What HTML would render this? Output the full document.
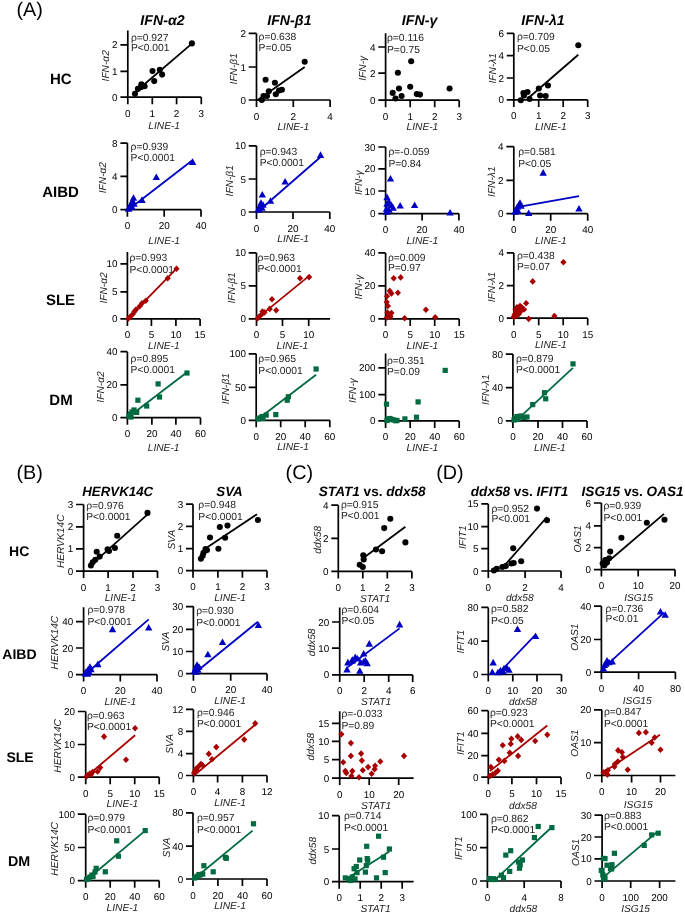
<!DOCTYPE html>
<html><head><meta charset="utf-8"><style>
html,body{margin:0;padding:0;background:#fff;}
svg{display:block;will-change:transform;text-rendering:geometricPrecision;font-family:"Liberation Sans",sans-serif;}
</style></head><body>
<svg width="685" height="914" viewBox="0 0 685 914">
<rect width="685" height="914" fill="#fff"/>
<path d="M127.80 30.60V97.20M120.40 97.20H201.30M120.40 71.40H127.80M120.40 44.80H127.80M127.80 97.20V104.20M152.30 97.20V104.20M176.60 97.20V104.20M201.30 97.20V104.20" stroke="#000" stroke-width="1.7" fill="none"/>
<text x="117.60" y="100.74" font-size="9.9" text-anchor="end">0</text>
<text x="117.60" y="74.94" font-size="9.9" text-anchor="end">1</text>
<text x="117.60" y="48.34" font-size="9.9" text-anchor="end">2</text>
<text x="127.80" y="116.74" font-size="9.9" text-anchor="middle">0</text>
<text x="152.30" y="116.74" font-size="9.9" text-anchor="middle">1</text>
<text x="176.60" y="116.74" font-size="9.9" text-anchor="middle">2</text>
<text x="201.30" y="116.74" font-size="9.9" text-anchor="middle">3</text>
<text x="130.90" y="40.59" font-size="10.3" fill="#222">ρ=0.927</text>
<text x="130.90" y="51.49" font-size="10.3" fill="#222">P&lt;0.001</text>
<text x="164.20" y="128.65" font-size="10.2" text-anchor="middle" font-style="italic" fill="#222">LINE-1</text>
<text transform="translate(105.60,65.80) rotate(-90)" x="0" y="3.65" font-size="10.2" text-anchor="middle" font-style="italic" fill="#222">IFN-α2</text>
<line x1="132.7" y1="94.2" x2="192.2" y2="43.4" stroke="#000000" stroke-width="1.8"/>
<circle cx="191.9" cy="43.4" r="3.05" fill="#000000"/>
<circle cx="159.8" cy="69.7" r="3.05" fill="#000000"/>
<circle cx="152.5" cy="71.1" r="3.05" fill="#000000"/>
<circle cx="162.1" cy="74.6" r="3.05" fill="#000000"/>
<circle cx="154.2" cy="81.1" r="3.05" fill="#000000"/>
<circle cx="141.4" cy="84.2" r="3.05" fill="#000000"/>
<circle cx="144.6" cy="86.3" r="3.05" fill="#000000"/>
<circle cx="140.9" cy="87.2" r="3.05" fill="#000000"/>
<circle cx="137.9" cy="88.9" r="3.05" fill="#000000"/>
<circle cx="135.0" cy="93.7" r="3.05" fill="#000000"/>
<path d="M256.50 33.40V100.00M248.70 100.00H330.10M248.70 67.00H256.50M248.70 33.40H256.50M256.50 100.00V107.00M293.30 100.00V107.00M330.10 100.00V107.00" stroke="#000" stroke-width="1.7" fill="none"/>
<text x="245.90" y="103.54" font-size="9.9" text-anchor="end">0</text>
<text x="245.90" y="70.54" font-size="9.9" text-anchor="end">1</text>
<text x="245.90" y="36.94" font-size="9.9" text-anchor="end">2</text>
<text x="256.50" y="119.54" font-size="9.9" text-anchor="middle">0</text>
<text x="293.30" y="119.54" font-size="9.9" text-anchor="middle">2</text>
<text x="330.10" y="119.54" font-size="9.9" text-anchor="middle">4</text>
<text x="258.60" y="40.09" font-size="10.3" fill="#222">ρ=0.638</text>
<text x="258.60" y="51.49" font-size="10.3" fill="#222">P=0.05</text>
<text x="293.30" y="130.15" font-size="10.2" text-anchor="middle" font-style="italic" fill="#222">LINE-1</text>
<text transform="translate(233.80,68.80) rotate(-90)" x="0" y="3.65" font-size="10.2" text-anchor="middle" font-style="italic" fill="#222">IFN-β1</text>
<line x1="257.4" y1="100.3" x2="304.7" y2="67.0" stroke="#000000" stroke-width="1.8"/>
<circle cx="304.7" cy="61.8" r="3.05" fill="#000000"/>
<circle cx="265.6" cy="79.7" r="3.05" fill="#000000"/>
<circle cx="274.9" cy="82.8" r="3.05" fill="#000000"/>
<circle cx="268.8" cy="91.2" r="3.05" fill="#000000"/>
<circle cx="281.9" cy="89.8" r="3.05" fill="#000000"/>
<circle cx="279.0" cy="90.5" r="3.05" fill="#000000"/>
<circle cx="275.8" cy="94.2" r="3.05" fill="#000000"/>
<circle cx="267.0" cy="96.0" r="3.05" fill="#000000"/>
<circle cx="263.5" cy="96.0" r="3.05" fill="#000000"/>
<circle cx="261.8" cy="100.0" r="3.05" fill="#000000"/>
<path d="M385.60 33.30V100.20M378.30 100.20H459.20M378.30 73.20H385.60M378.30 47.00H385.60M385.60 100.20V107.20M410.20 100.20V107.20M434.70 100.20V107.20M459.20 100.20V107.20" stroke="#000" stroke-width="1.7" fill="none"/>
<text x="375.50" y="103.74" font-size="9.9" text-anchor="end">0</text>
<text x="375.50" y="76.74" font-size="9.9" text-anchor="end">2</text>
<text x="375.50" y="50.54" font-size="9.9" text-anchor="end">4</text>
<text x="385.60" y="119.74" font-size="9.9" text-anchor="middle">0</text>
<text x="410.20" y="119.74" font-size="9.9" text-anchor="middle">1</text>
<text x="434.70" y="119.74" font-size="9.9" text-anchor="middle">2</text>
<text x="459.20" y="119.74" font-size="9.9" text-anchor="middle">3</text>
<text x="387.00" y="40.79" font-size="10.3" fill="#222">ρ=0.116</text>
<text x="387.00" y="52.79" font-size="10.3" fill="#222">P=0.75</text>
<text x="422.40" y="130.35" font-size="10.2" text-anchor="middle" font-style="italic" fill="#222">LINE-1</text>
<text transform="translate(362.50,68.30) rotate(-90)" x="0" y="3.65" font-size="10.2" text-anchor="middle" font-style="italic" fill="#222">IFN-γ</text>
<circle cx="411.2" cy="61.3" r="3.05" fill="#000000"/>
<circle cx="397.9" cy="72.7" r="3.05" fill="#000000"/>
<circle cx="410.2" cy="86.7" r="3.05" fill="#000000"/>
<circle cx="399.0" cy="88.5" r="3.05" fill="#000000"/>
<circle cx="449.6" cy="88.5" r="3.05" fill="#000000"/>
<circle cx="392.7" cy="92.9" r="3.05" fill="#000000"/>
<circle cx="416.8" cy="94.1" r="3.05" fill="#000000"/>
<circle cx="420.0" cy="94.6" r="3.05" fill="#000000"/>
<circle cx="401.6" cy="96.0" r="3.05" fill="#000000"/>
<circle cx="395.5" cy="98.5" r="3.05" fill="#000000"/>
<path d="M513.80 33.30V99.90M506.80 99.90H587.70M506.80 78.00H513.80M506.80 55.70H513.80M506.80 33.30H513.80M513.80 99.90V106.90M538.70 99.90V106.90M563.20 99.90V106.90M587.70 99.90V106.90" stroke="#000" stroke-width="1.7" fill="none"/>
<text x="504.00" y="103.44" font-size="9.9" text-anchor="end">0</text>
<text x="504.00" y="81.54" font-size="9.9" text-anchor="end">2</text>
<text x="504.00" y="59.24" font-size="9.9" text-anchor="end">4</text>
<text x="504.00" y="36.84" font-size="9.9" text-anchor="end">6</text>
<text x="513.80" y="119.44" font-size="9.9" text-anchor="middle">0</text>
<text x="538.70" y="119.44" font-size="9.9" text-anchor="middle">1</text>
<text x="563.20" y="119.44" font-size="9.9" text-anchor="middle">2</text>
<text x="587.70" y="119.44" font-size="9.9" text-anchor="middle">3</text>
<text x="517.00" y="40.49" font-size="10.3" fill="#222">ρ=0.709</text>
<text x="517.00" y="51.89" font-size="10.3" fill="#222">P&lt;0.05</text>
<text x="550.75" y="130.05" font-size="10.2" text-anchor="middle" font-style="italic" fill="#222">LINE-1</text>
<text transform="translate(491.90,68.30) rotate(-90)" x="0" y="3.65" font-size="10.2" text-anchor="middle" font-style="italic" fill="#222">IFN-λ1</text>
<line x1="527.8" y1="98.5" x2="578.3" y2="54.7" stroke="#000000" stroke-width="1.8"/>
<circle cx="578.3" cy="45.2" r="3.05" fill="#000000"/>
<circle cx="548.0" cy="85.5" r="3.05" fill="#000000"/>
<circle cx="538.8" cy="88.5" r="3.05" fill="#000000"/>
<circle cx="540.1" cy="95.5" r="3.05" fill="#000000"/>
<circle cx="545.7" cy="96.0" r="3.05" fill="#000000"/>
<circle cx="527.5" cy="92.0" r="3.05" fill="#000000"/>
<circle cx="524.0" cy="95.5" r="3.05" fill="#000000"/>
<circle cx="529.6" cy="99.0" r="3.05" fill="#000000"/>
<circle cx="520.8" cy="100.2" r="3.05" fill="#000000"/>
<circle cx="523.4" cy="93.0" r="3.05" fill="#000000"/>
<path d="M127.40 143.10V209.70M120.40 209.70H201.00M120.40 176.40H127.40M120.40 143.10H127.40M127.40 209.70V216.70M164.20 209.70V216.70M201.00 209.70V216.70" stroke="#000" stroke-width="1.7" fill="none"/>
<text x="117.60" y="213.24" font-size="9.9" text-anchor="end">0</text>
<text x="117.60" y="179.94" font-size="9.9" text-anchor="end">4</text>
<text x="117.60" y="146.64" font-size="9.9" text-anchor="end">8</text>
<text x="127.40" y="229.24" font-size="9.9" text-anchor="middle">0</text>
<text x="164.20" y="229.24" font-size="9.9" text-anchor="middle">20</text>
<text x="201.00" y="229.24" font-size="9.9" text-anchor="middle">40</text>
<text x="130.60" y="149.99" font-size="10.3" fill="#222">ρ=0.939</text>
<text x="130.60" y="161.19" font-size="10.3" fill="#222">P&lt;0.0001</text>
<text x="164.20" y="244.15" font-size="10.2" text-anchor="middle" font-style="italic" fill="#222">LINE-1</text>
<text transform="translate(101.90,177.60) rotate(-90)" x="0" y="3.65" font-size="10.2" text-anchor="middle" font-style="italic" fill="#222">IFN-α2</text>
<line x1="128.3" y1="209.7" x2="193.1" y2="159.8" stroke="#0000c4" stroke-width="1.8"/>
<path d="M192.6 158.3L196.3 164.9L188.9 164.9Z" fill="#0000c4"/>
<path d="M156.3 173.5L160.0 180.1L152.6 180.1Z" fill="#0000c4"/>
<path d="M142.0 196.3L145.7 202.9L138.3 202.9Z" fill="#0000c4"/>
<path d="M133.5 194.2L137.2 200.8L129.8 200.8Z" fill="#0000c4"/>
<path d="M132.5 197.2L136.2 203.8L128.8 203.8Z" fill="#0000c4"/>
<path d="M131.0 200.2L134.7 206.8L127.3 206.8Z" fill="#0000c4"/>
<path d="M130.0 202.2L133.7 208.8L126.3 208.8Z" fill="#0000c4"/>
<path d="M129.0 204.2L132.7 210.8L125.3 210.8Z" fill="#0000c4"/>
<path d="M128.5 205.2L132.2 211.8L124.8 211.8Z" fill="#0000c4"/>
<path d="M134.0 200.2L137.7 206.8L130.3 206.8Z" fill="#0000c4"/>
<path d="M132.0 203.2L135.7 209.8L128.3 209.8Z" fill="#0000c4"/>
<path d="M256.50 145.80V212.00M248.70 212.00H329.80M248.70 179.00H256.50M248.70 145.80H256.50M256.50 212.00V219.00M293.00 212.00V219.00M329.80 212.00V219.00" stroke="#000" stroke-width="1.7" fill="none"/>
<text x="245.90" y="215.54" font-size="9.9" text-anchor="end">0</text>
<text x="245.90" y="182.54" font-size="9.9" text-anchor="end">5</text>
<text x="245.90" y="149.34" font-size="9.9" text-anchor="end">10</text>
<text x="256.50" y="231.54" font-size="9.9" text-anchor="middle">0</text>
<text x="293.00" y="231.54" font-size="9.9" text-anchor="middle">20</text>
<text x="329.80" y="231.54" font-size="9.9" text-anchor="middle">40</text>
<text x="259.70" y="154.69" font-size="10.3" fill="#222">ρ=0.943</text>
<text x="259.70" y="165.79" font-size="10.3" fill="#222">P&lt;0.0001</text>
<text x="293.15" y="242.15" font-size="10.2" text-anchor="middle" font-style="italic" fill="#222">LINE-1</text>
<text transform="translate(229.40,180.80) rotate(-90)" x="0" y="3.65" font-size="10.2" text-anchor="middle" font-style="italic" fill="#222">IFN-β1</text>
<line x1="257.4" y1="212" x2="321.4" y2="156.3" stroke="#0000c4" stroke-width="1.8"/>
<path d="M320.5 151.3L324.2 157.9L316.8 157.9Z" fill="#0000c4"/>
<path d="M285.1 177.9L288.8 184.5L281.4 184.5Z" fill="#0000c4"/>
<path d="M270.5 197.2L274.2 203.8L266.8 203.8Z" fill="#0000c4"/>
<path d="M262.3 191.0L266.0 197.6L258.6 197.6Z" fill="#0000c4"/>
<path d="M261.0 199.2L264.7 205.8L257.3 205.8Z" fill="#0000c4"/>
<path d="M260.0 202.2L263.7 208.8L256.3 208.8Z" fill="#0000c4"/>
<path d="M259.0 205.2L262.7 211.8L255.3 211.8Z" fill="#0000c4"/>
<path d="M258.0 206.2L261.7 212.8L254.3 212.8Z" fill="#0000c4"/>
<path d="M262.0 204.2L265.7 210.8L258.3 210.8Z" fill="#0000c4"/>
<path d="M263.0 201.2L266.7 207.8L259.3 207.8Z" fill="#0000c4"/>
<path d="M385.60 147.00V213.60M378.30 213.60H458.90M378.30 191.00H385.60M378.30 168.90H385.60M378.30 147.00H385.60M385.60 213.60V220.60M422.10 213.60V220.60M458.90 213.60V220.60" stroke="#000" stroke-width="1.7" fill="none"/>
<text x="375.50" y="217.14" font-size="9.9" text-anchor="end">0</text>
<text x="375.50" y="194.54" font-size="9.9" text-anchor="end">10</text>
<text x="375.50" y="172.44" font-size="9.9" text-anchor="end">20</text>
<text x="375.50" y="150.54" font-size="9.9" text-anchor="end">30</text>
<text x="385.60" y="233.14" font-size="9.9" text-anchor="middle">0</text>
<text x="422.10" y="233.14" font-size="9.9" text-anchor="middle">20</text>
<text x="458.90" y="233.14" font-size="9.9" text-anchor="middle">40</text>
<text x="388.40" y="154.69" font-size="10.3" fill="#222">ρ=-0.059</text>
<text x="388.40" y="166.69" font-size="10.3" fill="#222">P=0.84</text>
<text x="422.25" y="243.75" font-size="10.2" text-anchor="middle" font-style="italic" fill="#222">LINE-1</text>
<text transform="translate(358.10,182.60) rotate(-90)" x="0" y="3.65" font-size="10.2" text-anchor="middle" font-style="italic" fill="#222">IFN-γ</text>
<path d="M390.5 174.9L394.2 181.5L386.8 181.5Z" fill="#0000c4"/>
<path d="M400.2 201.9L403.9 208.5L396.5 208.5Z" fill="#0000c4"/>
<path d="M414.6 201.5L418.3 208.1L410.9 208.1Z" fill="#0000c4"/>
<path d="M450.1 208.9L453.8 215.5L446.4 215.5Z" fill="#0000c4"/>
<path d="M387.0 193.6L390.7 200.2L383.3 200.2Z" fill="#0000c4"/>
<path d="M388.8 198.0L392.5 204.6L385.1 204.6Z" fill="#0000c4"/>
<path d="M391.4 201.5L395.1 208.1L387.7 208.1Z" fill="#0000c4"/>
<path d="M393.2 204.2L396.9 210.8L389.5 210.8Z" fill="#0000c4"/>
<path d="M387.0 200.2L390.7 206.8L383.3 206.8Z" fill="#0000c4"/>
<path d="M386.5 205.2L390.2 211.8L382.8 211.8Z" fill="#0000c4"/>
<path d="M389.0 206.2L392.7 212.8L385.3 212.8Z" fill="#0000c4"/>
<path d="M386.5 208.2L390.2 214.8L382.8 214.8Z" fill="#0000c4"/>
<path d="M513.80 146.60V213.70M506.40 213.70H587.70M506.40 180.30H513.80M506.40 146.60H513.80M513.80 213.70V220.70M550.70 213.70V220.70M587.70 213.70V220.70" stroke="#000" stroke-width="1.7" fill="none"/>
<text x="503.60" y="217.24" font-size="9.9" text-anchor="end">0</text>
<text x="503.60" y="183.84" font-size="9.9" text-anchor="end">2</text>
<text x="503.60" y="150.14" font-size="9.9" text-anchor="end">4</text>
<text x="513.80" y="233.24" font-size="9.9" text-anchor="middle">0</text>
<text x="550.70" y="233.24" font-size="9.9" text-anchor="middle">20</text>
<text x="587.70" y="233.24" font-size="9.9" text-anchor="middle">40</text>
<text x="518.20" y="155.19" font-size="10.3" fill="#222">ρ=0.581</text>
<text x="518.20" y="166.99" font-size="10.3" fill="#222">P&lt;0.05</text>
<text x="550.75" y="243.85" font-size="10.2" text-anchor="middle" font-style="italic" fill="#222">LINE-1</text>
<text transform="translate(491.00,181.70) rotate(-90)" x="0" y="3.65" font-size="10.2" text-anchor="middle" font-style="italic" fill="#222">IFN-λ1</text>
<line x1="517.3" y1="207.1" x2="579" y2="196.2" stroke="#0000c4" stroke-width="1.8"/>
<path d="M543.2 169.1L546.9 175.7L539.5 175.7Z" fill="#0000c4"/>
<path d="M579.0 205.0L582.7 211.6L575.3 211.6Z" fill="#0000c4"/>
<path d="M528.7 209.4L532.4 216.0L525.0 216.0Z" fill="#0000c4"/>
<path d="M516.0 206.2L519.7 212.8L512.3 212.8Z" fill="#0000c4"/>
<path d="M517.5 203.2L521.2 209.8L513.8 209.8Z" fill="#0000c4"/>
<path d="M519.0 201.2L522.7 207.8L515.3 207.8Z" fill="#0000c4"/>
<path d="M520.0 199.2L523.7 205.8L516.3 205.8Z" fill="#0000c4"/>
<path d="M518.0 207.2L521.7 213.8L514.3 213.8Z" fill="#0000c4"/>
<path d="M515.0 208.2L518.7 214.8L511.3 214.8Z" fill="#0000c4"/>
<path d="M521.0 202.2L524.7 208.8L517.3 208.8Z" fill="#0000c4"/>
<path d="M127.40 252.00V318.90M120.40 318.90H200.10M120.40 291.80H127.40M120.40 263.90H127.40M127.40 318.90V325.90M151.40 318.90V325.90M175.90 318.90V325.90M200.10 318.90V325.90" stroke="#000" stroke-width="1.7" fill="none"/>
<text x="117.60" y="322.44" font-size="9.9" text-anchor="end">0</text>
<text x="117.60" y="295.34" font-size="9.9" text-anchor="end">5</text>
<text x="117.60" y="267.44" font-size="9.9" text-anchor="end">10</text>
<text x="127.40" y="338.44" font-size="9.9" text-anchor="middle">0</text>
<text x="151.40" y="338.44" font-size="9.9" text-anchor="middle">5</text>
<text x="175.90" y="338.44" font-size="9.9" text-anchor="middle">10</text>
<text x="200.10" y="338.44" font-size="9.9" text-anchor="middle">15</text>
<text x="129.50" y="261.29" font-size="10.3" fill="#222">ρ=0.993</text>
<text x="129.50" y="272.89" font-size="10.3" fill="#222">P&lt;0.0001</text>
<text x="163.75" y="349.05" font-size="10.2" text-anchor="middle" font-style="italic" fill="#222">LINE-1</text>
<text transform="translate(102.90,287.90) rotate(-90)" x="0" y="3.65" font-size="10.2" text-anchor="middle" font-style="italic" fill="#222">IFN-α2</text>
<line x1="127.4" y1="318.9" x2="176.5" y2="268.7" stroke="#a80000" stroke-width="1.8"/>
<path d="M176.5 265.4L179.6 268.7L176.5 272.0L173.4 268.7Z" fill="#a80000"/>
<path d="M167.7 275.0L170.8 278.3L167.7 281.6L164.6 278.3Z" fill="#a80000"/>
<path d="M145.8 297.4L148.9 300.7L145.8 304.0L142.7 300.7Z" fill="#a80000"/>
<path d="M142.0 299.9L145.1 303.2L142.0 306.5L138.9 303.2Z" fill="#a80000"/>
<path d="M139.7 303.0L142.8 306.3L139.7 309.6L136.6 306.3Z" fill="#a80000"/>
<path d="M134.4 308.3L137.5 311.6L134.4 314.9L131.3 311.6Z" fill="#a80000"/>
<path d="M132.7 310.9L135.8 314.2L132.7 317.5L129.6 314.2Z" fill="#a80000"/>
<path d="M130.2 313.5L133.3 316.8L130.2 320.1L127.1 316.8Z" fill="#a80000"/>
<path d="M128.4 315.2L131.5 318.5L128.4 321.8L125.3 318.5Z" fill="#a80000"/>
<path d="M136.0 306.2L139.1 309.5L136.0 312.8L132.9 309.5Z" fill="#a80000"/>
<path d="M256.50 252.90V318.90M248.70 318.90H330.10M248.70 285.80H256.50M248.70 252.90H256.50M256.50 318.90V325.90M282.50 318.90V325.90M308.70 318.90V325.90" stroke="#000" stroke-width="1.7" fill="none"/>
<text x="245.90" y="322.44" font-size="9.9" text-anchor="end">0</text>
<text x="245.90" y="289.34" font-size="9.9" text-anchor="end">5</text>
<text x="245.90" y="256.44" font-size="9.9" text-anchor="end">10</text>
<text x="256.50" y="338.44" font-size="9.9" text-anchor="middle">0</text>
<text x="282.50" y="338.44" font-size="9.9" text-anchor="middle">5</text>
<text x="308.70" y="338.44" font-size="9.9" text-anchor="middle">10</text>
<text x="257.40" y="260.59" font-size="10.3" fill="#222">ρ=0.963</text>
<text x="257.40" y="271.99" font-size="10.3" fill="#222">P&lt;0.0001</text>
<text x="292.40" y="348.85" font-size="10.2" text-anchor="middle" font-style="italic" fill="#222">LINE-1</text>
<text transform="translate(231.10,287.90) rotate(-90)" x="0" y="3.65" font-size="10.2" text-anchor="middle" font-style="italic" fill="#222">IFN-β1</text>
<line x1="256.5" y1="318.9" x2="307.3" y2="277.4" stroke="#a80000" stroke-width="1.8"/>
<path d="M309.1 273.8L312.2 277.1L309.1 280.4L306.0 277.1Z" fill="#a80000"/>
<path d="M300.0 275.0L303.1 278.3L300.0 281.6L296.9 278.3Z" fill="#a80000"/>
<path d="M272.0 296.0L275.1 299.3L272.0 302.6L268.9 299.3Z" fill="#a80000"/>
<path d="M276.2 306.9L279.3 310.2L276.2 313.5L273.1 310.2Z" fill="#a80000"/>
<path d="M269.7 305.6L272.8 308.9L269.7 312.2L266.6 308.9Z" fill="#a80000"/>
<path d="M264.4 309.1L267.5 312.4L264.4 315.7L261.3 312.4Z" fill="#a80000"/>
<path d="M261.8 310.9L264.9 314.2L261.8 317.5L258.7 314.2Z" fill="#a80000"/>
<path d="M259.2 313.2L262.3 316.5L259.2 319.8L256.1 316.5Z" fill="#a80000"/>
<path d="M257.4 315.2L260.5 318.5L257.4 321.8L254.3 318.5Z" fill="#a80000"/>
<path d="M262.5 308.2L265.6 311.5L262.5 314.8L259.4 311.5Z" fill="#a80000"/>
<path d="M385.60 252.90V318.90M378.30 318.90H459.20M378.30 285.80H385.60M378.30 252.90H385.60M385.60 318.90V325.90M410.20 318.90V325.90M434.70 318.90V325.90M459.20 318.90V325.90" stroke="#000" stroke-width="1.7" fill="none"/>
<text x="375.50" y="322.44" font-size="9.9" text-anchor="end">0</text>
<text x="375.50" y="289.34" font-size="9.9" text-anchor="end">20</text>
<text x="375.50" y="256.44" font-size="9.9" text-anchor="end">40</text>
<text x="385.60" y="338.44" font-size="9.9" text-anchor="middle">0</text>
<text x="410.20" y="338.44" font-size="9.9" text-anchor="middle">5</text>
<text x="434.70" y="338.44" font-size="9.9" text-anchor="middle">10</text>
<text x="459.20" y="338.44" font-size="9.9" text-anchor="middle">15</text>
<text x="387.90" y="260.59" font-size="10.3" fill="#222">ρ=0.009</text>
<text x="387.90" y="271.49" font-size="10.3" fill="#222">P=0.97</text>
<text x="422.40" y="349.05" font-size="10.2" text-anchor="middle" font-style="italic" fill="#222">LINE-1</text>
<text transform="translate(358.10,287.00) rotate(-90)" x="0" y="3.65" font-size="10.2" text-anchor="middle" font-style="italic" fill="#222">IFN-γ</text>
<path d="M393.7 275.0L396.8 278.3L393.7 281.6L390.6 278.3Z" fill="#a80000"/>
<path d="M400.7 274.1L403.8 277.4L400.7 280.7L397.6 277.4Z" fill="#a80000"/>
<path d="M397.9 289.5L401.0 292.8L397.9 296.1L394.8 292.8Z" fill="#a80000"/>
<path d="M389.7 287.6L392.8 290.9L389.7 294.2L386.6 290.9Z" fill="#a80000"/>
<path d="M391.4 290.1L394.5 293.4L391.4 296.7L388.3 293.4Z" fill="#a80000"/>
<path d="M387.0 292.9L390.1 296.2L387.0 299.5L383.9 296.2Z" fill="#a80000"/>
<path d="M386.7 298.7L389.8 302.0L386.7 305.3L383.6 302.0Z" fill="#a80000"/>
<path d="M387.9 302.7L391.0 306.0L387.9 309.3L384.8 306.0Z" fill="#a80000"/>
<path d="M425.9 306.5L429.0 309.8L425.9 313.1L422.8 309.8Z" fill="#a80000"/>
<path d="M435.2 313.9L438.3 317.2L435.2 320.5L432.1 317.2Z" fill="#a80000"/>
<path d="M404.6 314.9L407.7 318.2L404.6 321.5L401.5 318.2Z" fill="#a80000"/>
<path d="M387.5 309.2L390.6 312.5L387.5 315.8L384.4 312.5Z" fill="#a80000"/>
<path d="M389.0 311.7L392.1 315.0L389.0 318.3L385.9 315.0Z" fill="#a80000"/>
<path d="M390.5 313.2L393.6 316.5L390.5 319.8L387.4 316.5Z" fill="#a80000"/>
<path d="M387.0 314.2L390.1 317.5L387.0 320.8L383.9 317.5Z" fill="#a80000"/>
<path d="M391.5 309.7L394.6 313.0L391.5 316.3L388.4 313.0Z" fill="#a80000"/>
<path d="M513.80 252.90V318.20M506.80 318.20H587.70M506.80 285.60H513.80M506.80 252.90H513.80M513.80 318.20V325.20M538.70 318.20V325.20M563.20 318.20V325.20M587.70 318.20V325.20" stroke="#000" stroke-width="1.7" fill="none"/>
<text x="504.00" y="321.74" font-size="9.9" text-anchor="end">0</text>
<text x="504.00" y="289.14" font-size="9.9" text-anchor="end">2</text>
<text x="504.00" y="256.44" font-size="9.9" text-anchor="end">4</text>
<text x="513.80" y="337.74" font-size="9.9" text-anchor="middle">0</text>
<text x="538.70" y="337.74" font-size="9.9" text-anchor="middle">5</text>
<text x="563.20" y="337.74" font-size="9.9" text-anchor="middle">10</text>
<text x="587.70" y="337.74" font-size="9.9" text-anchor="middle">15</text>
<text x="517.00" y="259.19" font-size="10.3" fill="#222">ρ=0.438</text>
<text x="517.00" y="270.09" font-size="10.3" fill="#222">P=0.07</text>
<text x="550.75" y="348.35" font-size="10.2" text-anchor="middle" font-style="italic" fill="#222">LINE-1</text>
<text transform="translate(491.00,287.00) rotate(-90)" x="0" y="3.65" font-size="10.2" text-anchor="middle" font-style="italic" fill="#222">IFN-λ1</text>
<path d="M563.4 258.9L566.5 262.2L563.4 265.5L560.3 262.2Z" fill="#a80000"/>
<path d="M532.7 278.1L535.8 281.4L532.7 284.7L529.6 281.4Z" fill="#a80000"/>
<path d="M526.1 299.9L529.2 303.2L526.1 306.5L523.0 303.2Z" fill="#a80000"/>
<path d="M554.4 312.7L557.5 316.0L554.4 319.3L551.3 316.0Z" fill="#a80000"/>
<path d="M528.7 315.6L531.8 318.9L528.7 322.2L525.6 318.9Z" fill="#a80000"/>
<path d="M517.0 303.9L520.1 307.2L517.0 310.5L513.9 307.2Z" fill="#a80000"/>
<path d="M521.7 303.9L524.8 307.2L521.7 310.5L518.6 307.2Z" fill="#a80000"/>
<path d="M515.5 306.5L518.6 309.8L515.5 313.1L512.4 309.8Z" fill="#a80000"/>
<path d="M514.7 310.9L517.8 314.2L514.7 317.5L511.6 314.2Z" fill="#a80000"/>
<path d="M513.8 313.5L516.9 316.8L513.8 320.1L510.7 316.8Z" fill="#a80000"/>
<path d="M519.0 308.3L522.1 311.6L519.0 314.9L515.9 311.6Z" fill="#a80000"/>
<path d="M516.0 308.7L519.1 312.0L516.0 315.3L512.9 312.0Z" fill="#a80000"/>
<path d="M518.0 305.7L521.1 309.0L518.0 312.3L514.9 309.0Z" fill="#a80000"/>
<path d="M520.0 302.7L523.1 306.0L520.0 309.3L516.9 306.0Z" fill="#a80000"/>
<path d="M522.0 304.7L525.1 308.0L522.0 311.3L518.9 308.0Z" fill="#a80000"/>
<path d="M516.0 312.7L519.1 316.0L516.0 319.3L512.9 316.0Z" fill="#a80000"/>
<path d="M519.0 310.7L522.1 314.0L519.0 317.3L515.9 314.0Z" fill="#a80000"/>
<path d="M521.0 307.7L524.1 311.0L521.0 314.3L517.9 311.0Z" fill="#a80000"/>
<path d="M524.0 306.2L527.1 309.5L524.0 312.8L520.9 309.5Z" fill="#a80000"/>
<path d="M127.40 351.70V417.70M120.40 417.70H200.50M120.40 384.80H127.40M120.40 351.70H127.40M127.40 417.70V424.70M151.90 417.70V424.70M175.90 417.70V424.70M200.50 417.70V424.70" stroke="#000" stroke-width="1.7" fill="none"/>
<text x="117.60" y="421.24" font-size="9.9" text-anchor="end">0</text>
<text x="117.60" y="388.34" font-size="9.9" text-anchor="end">20</text>
<text x="117.60" y="355.24" font-size="9.9" text-anchor="end">40</text>
<text x="127.40" y="437.24" font-size="9.9" text-anchor="middle">0</text>
<text x="151.90" y="437.24" font-size="9.9" text-anchor="middle">20</text>
<text x="175.90" y="437.24" font-size="9.9" text-anchor="middle">40</text>
<text x="200.50" y="437.24" font-size="9.9" text-anchor="middle">60</text>
<text x="130.60" y="361.79" font-size="10.3" fill="#222">ρ=0.895</text>
<text x="130.60" y="373.19" font-size="10.3" fill="#222">P&lt;0.0001</text>
<text x="163.60" y="450.95" font-size="10.2" text-anchor="middle" font-style="italic" fill="#222">LINE-1</text>
<text transform="translate(100.30,387.00) rotate(-90)" x="0" y="3.65" font-size="10.2" text-anchor="middle" font-style="italic" fill="#222">IFN-α2</text>
<line x1="127.4" y1="417.7" x2="187" y2="372.2" stroke="#006a40" stroke-width="1.8"/>
<rect x="184.4" y="370.4" width="5.2" height="5.2" fill="#006a40"/>
<rect x="155.5" y="381.3" width="5.2" height="5.2" fill="#006a40"/>
<rect x="156.9" y="394.4" width="5.2" height="5.2" fill="#006a40"/>
<rect x="135.3" y="397.6" width="5.2" height="5.2" fill="#006a40"/>
<rect x="144.1" y="403.4" width="5.2" height="5.2" fill="#006a40"/>
<rect x="134.1" y="409.8" width="5.2" height="5.2" fill="#006a40"/>
<rect x="129.4" y="409.4" width="5.2" height="5.2" fill="#006a40"/>
<rect x="127.9" y="411.4" width="5.2" height="5.2" fill="#006a40"/>
<rect x="126.4" y="413.4" width="5.2" height="5.2" fill="#006a40"/>
<rect x="131.4" y="407.4" width="5.2" height="5.2" fill="#006a40"/>
<rect x="128.4" y="414.4" width="5.2" height="5.2" fill="#006a40"/>
<path d="M256.20 353.80V420.30M248.70 420.30H329.80M248.70 387.40H256.20M248.70 353.80H256.20M256.20 420.30V427.30M280.70 420.30V427.30M305.20 420.30V427.30M329.80 420.30V427.30" stroke="#000" stroke-width="1.7" fill="none"/>
<text x="245.90" y="423.84" font-size="9.9" text-anchor="end">0</text>
<text x="245.90" y="390.94" font-size="9.9" text-anchor="end">50</text>
<text x="245.90" y="357.34" font-size="9.9" text-anchor="end">100</text>
<text x="256.20" y="439.84" font-size="9.9" text-anchor="middle">0</text>
<text x="280.70" y="439.84" font-size="9.9" text-anchor="middle">20</text>
<text x="305.20" y="439.84" font-size="9.9" text-anchor="middle">40</text>
<text x="329.80" y="439.84" font-size="9.9" text-anchor="middle">60</text>
<text x="258.30" y="362.39" font-size="10.3" fill="#222">ρ=0.965</text>
<text x="258.30" y="373.79" font-size="10.3" fill="#222">P&lt;0.0001</text>
<text x="293.00" y="450.45" font-size="10.2" text-anchor="middle" font-style="italic" fill="#222">LINE-1</text>
<text transform="translate(225.80,388.70) rotate(-90)" x="0" y="3.65" font-size="10.2" text-anchor="middle" font-style="italic" fill="#222">IFN-β1</text>
<line x1="256.5" y1="420.3" x2="316.1" y2="374.8" stroke="#006a40" stroke-width="1.8"/>
<rect x="313.5" y="366.4" width="5.2" height="5.2" fill="#006a40"/>
<rect x="285.8" y="394.1" width="5.2" height="5.2" fill="#006a40"/>
<rect x="284.6" y="397.6" width="5.2" height="5.2" fill="#006a40"/>
<rect x="273.2" y="412.0" width="5.2" height="5.2" fill="#006a40"/>
<rect x="263.6" y="412.5" width="5.2" height="5.2" fill="#006a40"/>
<rect x="259.4" y="413.9" width="5.2" height="5.2" fill="#006a40"/>
<rect x="257.4" y="415.4" width="5.2" height="5.2" fill="#006a40"/>
<rect x="255.4" y="416.4" width="5.2" height="5.2" fill="#006a40"/>
<rect x="260.4" y="415.9" width="5.2" height="5.2" fill="#006a40"/>
<path d="M385.60 353.40V420.90M378.30 420.90H459.20M378.30 394.60H385.60M378.30 367.80H385.60M385.60 420.90V427.90M410.20 420.90V427.90M434.70 420.90V427.90M459.20 420.90V427.90" stroke="#000" stroke-width="1.7" fill="none"/>
<text x="375.50" y="424.44" font-size="9.9" text-anchor="end">0</text>
<text x="375.50" y="398.14" font-size="9.9" text-anchor="end">100</text>
<text x="375.50" y="371.34" font-size="9.9" text-anchor="end">200</text>
<text x="385.60" y="440.44" font-size="9.9" text-anchor="middle">0</text>
<text x="410.20" y="440.44" font-size="9.9" text-anchor="middle">20</text>
<text x="434.70" y="440.44" font-size="9.9" text-anchor="middle">40</text>
<text x="459.20" y="440.44" font-size="9.9" text-anchor="middle">60</text>
<text x="387.00" y="363.59" font-size="10.3" fill="#222">ρ=0.351</text>
<text x="387.00" y="374.59" font-size="10.3" fill="#222">P=0.09</text>
<text x="422.40" y="451.05" font-size="10.2" text-anchor="middle" font-style="italic" fill="#222">LINE-1</text>
<text transform="translate(352.00,390.50) rotate(-90)" x="0" y="3.65" font-size="10.2" text-anchor="middle" font-style="italic" fill="#222">IFN-γ</text>
<rect x="442.6" y="367.8" width="5.2" height="5.2" fill="#006a40"/>
<rect x="415.5" y="399.3" width="5.2" height="5.2" fill="#006a40"/>
<rect x="413.9" y="414.6" width="5.2" height="5.2" fill="#006a40"/>
<rect x="383.9" y="401.6" width="5.2" height="5.2" fill="#006a40"/>
<rect x="402.3" y="416.3" width="5.2" height="5.2" fill="#006a40"/>
<rect x="393.2" y="418.1" width="5.2" height="5.2" fill="#006a40"/>
<rect x="385.4" y="416.4" width="5.2" height="5.2" fill="#006a40"/>
<rect x="387.4" y="415.9" width="5.2" height="5.2" fill="#006a40"/>
<rect x="389.4" y="416.9" width="5.2" height="5.2" fill="#006a40"/>
<rect x="391.4" y="417.4" width="5.2" height="5.2" fill="#006a40"/>
<rect x="394.4" y="417.9" width="5.2" height="5.2" fill="#006a40"/>
<rect x="384.4" y="417.9" width="5.2" height="5.2" fill="#006a40"/>
<path d="M512.90 354.10V420.90M505.80 420.90H587.00M505.80 387.60H512.90M505.80 354.10H512.90M512.90 420.90V427.90M538.00 420.90V427.90M562.50 420.90V427.90M587.00 420.90V427.90" stroke="#000" stroke-width="1.7" fill="none"/>
<text x="503.00" y="424.44" font-size="9.9" text-anchor="end">0</text>
<text x="503.00" y="391.14" font-size="9.9" text-anchor="end">40</text>
<text x="503.00" y="357.64" font-size="9.9" text-anchor="end">80</text>
<text x="512.90" y="440.44" font-size="9.9" text-anchor="middle">0</text>
<text x="538.00" y="440.44" font-size="9.9" text-anchor="middle">20</text>
<text x="562.50" y="440.44" font-size="9.9" text-anchor="middle">40</text>
<text x="587.00" y="440.44" font-size="9.9" text-anchor="middle">60</text>
<text x="515.90" y="362.39" font-size="10.3" fill="#222">ρ=0.879</text>
<text x="515.90" y="373.19" font-size="10.3" fill="#222">P&lt;0.0001</text>
<text x="549.95" y="451.05" font-size="10.2" text-anchor="middle" font-style="italic" fill="#222">LINE-1</text>
<text transform="translate(485.80,389.70) rotate(-90)" x="0" y="3.65" font-size="10.2" text-anchor="middle" font-style="italic" fill="#222">IFN-λ1</text>
<line x1="516.4" y1="420.3" x2="573" y2="367.8" stroke="#006a40" stroke-width="1.8"/>
<rect x="570.4" y="361.3" width="5.2" height="5.2" fill="#006a40"/>
<rect x="541.9" y="390.1" width="5.2" height="5.2" fill="#006a40"/>
<rect x="543.1" y="396.2" width="5.2" height="5.2" fill="#006a40"/>
<rect x="530.1" y="402.0" width="5.2" height="5.2" fill="#006a40"/>
<rect x="512.4" y="415.4" width="5.2" height="5.2" fill="#006a40"/>
<rect x="514.4" y="413.9" width="5.2" height="5.2" fill="#006a40"/>
<rect x="516.4" y="414.4" width="5.2" height="5.2" fill="#006a40"/>
<rect x="518.4" y="413.4" width="5.2" height="5.2" fill="#006a40"/>
<rect x="521.4" y="414.9" width="5.2" height="5.2" fill="#006a40"/>
<rect x="524.4" y="414.4" width="5.2" height="5.2" fill="#006a40"/>
<rect x="511.4" y="417.4" width="5.2" height="5.2" fill="#006a40"/>
<rect x="515.4" y="416.9" width="5.2" height="5.2" fill="#006a40"/>
<path d="M83.60 504.50V571.10M76.00 571.10H157.50M76.00 548.90H83.60M76.00 526.80H83.60M76.00 504.50H83.60M83.60 571.10V578.10M108.10 571.10V578.10M133.00 571.10V578.10M157.50 571.10V578.10" stroke="#000" stroke-width="1.7" fill="none"/>
<text x="73.20" y="574.64" font-size="9.9" text-anchor="end">0</text>
<text x="73.20" y="552.44" font-size="9.9" text-anchor="end">1</text>
<text x="73.20" y="530.34" font-size="9.9" text-anchor="end">2</text>
<text x="73.20" y="508.04" font-size="9.9" text-anchor="end">3</text>
<text x="83.60" y="590.64" font-size="9.9" text-anchor="middle">0</text>
<text x="108.10" y="590.64" font-size="9.9" text-anchor="middle">1</text>
<text x="133.00" y="590.64" font-size="9.9" text-anchor="middle">2</text>
<text x="157.50" y="590.64" font-size="9.9" text-anchor="middle">3</text>
<text x="86.20" y="508.79" font-size="10.3" fill="#222">ρ=0.976</text>
<text x="86.20" y="520.09" font-size="10.3" fill="#222">P&lt;0.0001</text>
<text x="120.55" y="601.25" font-size="10.2" text-anchor="middle" font-style="italic" fill="#222">LINE-1</text>
<text transform="translate(60.30,541.30) rotate(-90)" x="0" y="3.65" font-size="10.2" text-anchor="middle" font-style="italic" fill="#222">HERVK14C</text>
<line x1="89.2" y1="566.7" x2="147.9" y2="514.2" stroke="#000000" stroke-width="1.8"/>
<circle cx="147.5" cy="512.9" r="3.05" fill="#000000"/>
<circle cx="117.2" cy="535.7" r="3.05" fill="#000000"/>
<circle cx="114.9" cy="548.0" r="3.05" fill="#000000"/>
<circle cx="109.0" cy="551.0" r="3.05" fill="#000000"/>
<circle cx="107.6" cy="549.2" r="3.05" fill="#000000"/>
<circle cx="96.7" cy="551.8" r="3.05" fill="#000000"/>
<circle cx="99.7" cy="556.6" r="3.05" fill="#000000"/>
<circle cx="95.3" cy="559.7" r="3.05" fill="#000000"/>
<circle cx="92.7" cy="562.3" r="3.05" fill="#000000"/>
<circle cx="90.9" cy="565.5" r="3.05" fill="#000000"/>
<path d="M193.00 504.20V570.70M186.00 570.70H267.00M186.00 548.70H193.00M186.00 526.40H193.00M186.00 504.20H193.00M193.00 570.70V577.70M217.90 570.70V577.70M242.40 570.70V577.70M267.00 570.70V577.70" stroke="#000" stroke-width="1.7" fill="none"/>
<text x="183.20" y="574.24" font-size="9.9" text-anchor="end">0</text>
<text x="183.20" y="552.24" font-size="9.9" text-anchor="end">1</text>
<text x="183.20" y="529.94" font-size="9.9" text-anchor="end">2</text>
<text x="183.20" y="507.74" font-size="9.9" text-anchor="end">3</text>
<text x="193.00" y="590.24" font-size="9.9" text-anchor="middle">0</text>
<text x="217.90" y="590.24" font-size="9.9" text-anchor="middle">1</text>
<text x="242.40" y="590.24" font-size="9.9" text-anchor="middle">2</text>
<text x="267.00" y="590.24" font-size="9.9" text-anchor="middle">3</text>
<text x="198.30" y="508.19" font-size="10.3" fill="#222">ρ=0.948</text>
<text x="198.30" y="519.59" font-size="10.3" fill="#222">P&lt;0.0001</text>
<text x="230.00" y="600.85" font-size="10.2" text-anchor="middle" font-style="italic" fill="#222">LINE-1</text>
<text transform="translate(171.70,539.60) rotate(-90)" x="0" y="3.65" font-size="10.2" text-anchor="middle" font-style="italic" fill="#222">SVA</text>
<line x1="207" y1="547.4" x2="257" y2="514.2" stroke="#000000" stroke-width="1.8"/>
<circle cx="257.9" cy="520.0" r="3.05" fill="#000000"/>
<circle cx="227.5" cy="525.6" r="3.05" fill="#000000"/>
<circle cx="219.8" cy="527.0" r="3.05" fill="#000000"/>
<circle cx="210.0" cy="537.5" r="3.05" fill="#000000"/>
<circle cx="225.1" cy="537.8" r="3.05" fill="#000000"/>
<circle cx="218.4" cy="548.7" r="3.05" fill="#000000"/>
<circle cx="207.0" cy="550.1" r="3.05" fill="#000000"/>
<circle cx="205.5" cy="549.0" r="3.05" fill="#000000"/>
<circle cx="203.5" cy="552.7" r="3.05" fill="#000000"/>
<circle cx="202.7" cy="555.7" r="3.05" fill="#000000"/>
<circle cx="200.9" cy="558.8" r="3.05" fill="#000000"/>
<path d="M83.60 607.20V674.60M76.00 674.60H157.00M76.00 648.00H83.60M76.00 621.70H83.60M83.60 674.60V681.60M120.30 674.60V681.60M157.00 674.60V681.60" stroke="#000" stroke-width="1.7" fill="none"/>
<text x="73.20" y="678.14" font-size="9.9" text-anchor="end">0</text>
<text x="73.20" y="651.54" font-size="9.9" text-anchor="end">20</text>
<text x="73.20" y="625.24" font-size="9.9" text-anchor="end">40</text>
<text x="83.60" y="694.14" font-size="9.9" text-anchor="middle">0</text>
<text x="120.30" y="694.14" font-size="9.9" text-anchor="middle">20</text>
<text x="157.00" y="694.14" font-size="9.9" text-anchor="middle">40</text>
<text x="87.40" y="613.49" font-size="10.3" fill="#222">ρ=0.978</text>
<text x="87.40" y="624.89" font-size="10.3" fill="#222">P&lt;0.0001</text>
<text x="120.30" y="704.75" font-size="10.2" text-anchor="middle" font-style="italic" fill="#222">LINE-1</text>
<text transform="translate(54.10,642.60) rotate(-90)" x="0" y="3.65" font-size="10.2" text-anchor="middle" font-style="italic" fill="#222">HERVK14C</text>
<line x1="83.9" y1="675.5" x2="148.7" y2="619.4" stroke="#0000c4" stroke-width="1.8"/>
<path d="M148.7 623.9L152.4 630.5L145.0 630.5Z" fill="#0000c4"/>
<path d="M112.5 625.6L116.2 632.2L108.8 632.2Z" fill="#0000c4"/>
<path d="M97.9 660.6L101.6 667.2L94.2 667.2Z" fill="#0000c4"/>
<path d="M90.0 663.2L93.7 669.8L86.3 669.8Z" fill="#0000c4"/>
<path d="M88.0 666.2L91.7 672.8L84.3 672.8Z" fill="#0000c4"/>
<path d="M86.0 668.2L89.7 674.8L82.3 674.8Z" fill="#0000c4"/>
<path d="M85.0 669.7L88.7 676.3L81.3 676.3Z" fill="#0000c4"/>
<path d="M89.0 668.2L92.7 674.8L85.3 674.8Z" fill="#0000c4"/>
<path d="M91.0 665.7L94.7 672.3L87.3 672.3Z" fill="#0000c4"/>
<path d="M87.5 670.2L91.2 676.8L83.8 676.8Z" fill="#0000c4"/>
<path d="M193.40 606.60V673.70M186.00 673.70H267.00M186.00 651.50H193.40M186.00 629.40H193.40M186.00 606.60H193.40M193.40 673.70V680.70M230.70 673.70V680.70M267.00 673.70V680.70" stroke="#000" stroke-width="1.7" fill="none"/>
<text x="183.20" y="677.24" font-size="9.9" text-anchor="end">0</text>
<text x="183.20" y="655.04" font-size="9.9" text-anchor="end">10</text>
<text x="183.20" y="632.94" font-size="9.9" text-anchor="end">20</text>
<text x="183.20" y="610.14" font-size="9.9" text-anchor="end">30</text>
<text x="193.40" y="693.24" font-size="9.9" text-anchor="middle">0</text>
<text x="230.70" y="693.24" font-size="9.9" text-anchor="middle">20</text>
<text x="267.00" y="693.24" font-size="9.9" text-anchor="middle">40</text>
<text x="196.20" y="614.39" font-size="10.3" fill="#222">ρ=0.930</text>
<text x="196.20" y="625.69" font-size="10.3" fill="#222">P&lt;0.0001</text>
<text x="230.20" y="703.85" font-size="10.2" text-anchor="middle" font-style="italic" fill="#222">LINE-1</text>
<text transform="translate(165.50,641.70) rotate(-90)" x="0" y="3.65" font-size="10.2" text-anchor="middle" font-style="italic" fill="#222">SVA</text>
<line x1="193.9" y1="673.7" x2="257.9" y2="621.7" stroke="#0000c4" stroke-width="1.8"/>
<path d="M258.4 621.4L262.1 628.0L254.7 628.0Z" fill="#0000c4"/>
<path d="M222.5 638.4L226.2 645.0L218.8 645.0Z" fill="#0000c4"/>
<path d="M207.9 650.7L211.6 657.3L204.2 657.3Z" fill="#0000c4"/>
<path d="M197.0 661.2L200.7 667.8L193.3 667.8Z" fill="#0000c4"/>
<path d="M195.5 664.2L199.2 670.8L191.8 670.8Z" fill="#0000c4"/>
<path d="M194.5 667.2L198.2 673.8L190.8 673.8Z" fill="#0000c4"/>
<path d="M199.0 663.2L202.7 669.8L195.3 669.8Z" fill="#0000c4"/>
<path d="M196.0 668.2L199.7 674.8L192.3 674.8Z" fill="#0000c4"/>
<path d="M198.0 666.2L201.7 672.8L194.3 672.8Z" fill="#0000c4"/>
<path d="M85.70 711.50V777.20M77.80 777.20H159.20M77.80 744.50H85.70M77.80 711.50H85.70M85.70 777.20V784.20M110.20 777.20V784.20M134.70 777.20V784.20M159.20 777.20V784.20" stroke="#000" stroke-width="1.7" fill="none"/>
<text x="75.00" y="780.74" font-size="9.9" text-anchor="end">0</text>
<text x="75.00" y="748.04" font-size="9.9" text-anchor="end">10</text>
<text x="75.00" y="715.04" font-size="9.9" text-anchor="end">20</text>
<text x="85.70" y="796.74" font-size="9.9" text-anchor="middle">0</text>
<text x="110.20" y="796.74" font-size="9.9" text-anchor="middle">5</text>
<text x="134.70" y="796.74" font-size="9.9" text-anchor="middle">10</text>
<text x="159.20" y="796.74" font-size="9.9" text-anchor="middle">15</text>
<text x="86.90" y="718.69" font-size="10.3" fill="#222">ρ=0.963</text>
<text x="86.90" y="730.09" font-size="10.3" fill="#222">P&lt;0.0001</text>
<text x="122.45" y="807.35" font-size="10.2" text-anchor="middle" font-style="italic" fill="#222">LINE-1</text>
<text transform="translate(57.40,745.90) rotate(-90)" x="0" y="3.65" font-size="10.2" text-anchor="middle" font-style="italic" fill="#222">HERVK14C</text>
<line x1="85.7" y1="777.2" x2="135.1" y2="735.2" stroke="#a80000" stroke-width="1.8"/>
<path d="M135.1 724.9L138.2 728.2L135.1 731.5L132.0 728.2Z" fill="#a80000"/>
<path d="M104.1 733.3L107.2 736.6L104.1 739.9L101.0 736.6Z" fill="#a80000"/>
<path d="M126.0 756.4L129.1 759.7L126.0 763.0L122.9 759.7Z" fill="#a80000"/>
<path d="M100.2 764.3L103.3 767.6L100.2 770.9L97.1 767.6Z" fill="#a80000"/>
<path d="M97.6 768.2L100.7 771.5L97.6 774.8L94.5 771.5Z" fill="#a80000"/>
<path d="M92.7 768.7L95.8 772.0L92.7 775.3L89.6 772.0Z" fill="#a80000"/>
<path d="M90.0 770.2L93.1 773.5L90.0 776.8L86.9 773.5Z" fill="#a80000"/>
<path d="M88.0 771.7L91.1 775.0L88.0 778.3L84.9 775.0Z" fill="#a80000"/>
<path d="M86.5 773.2L89.6 776.5L86.5 779.8L83.4 776.5Z" fill="#a80000"/>
<path d="M91.0 771.2L94.1 774.5L91.0 777.8L87.9 774.5Z" fill="#a80000"/>
<path d="M193.40 709.40V775.50M186.00 775.50H267.00M186.00 753.60H193.40M186.00 731.30H193.40M186.00 709.40H193.40M193.40 775.50V782.50M217.60 775.50V782.50M242.40 775.50V782.50M267.00 775.50V782.50" stroke="#000" stroke-width="1.7" fill="none"/>
<text x="183.20" y="779.04" font-size="9.9" text-anchor="end">0</text>
<text x="183.20" y="757.14" font-size="9.9" text-anchor="end">4</text>
<text x="183.20" y="734.84" font-size="9.9" text-anchor="end">8</text>
<text x="183.20" y="712.94" font-size="9.9" text-anchor="end">12</text>
<text x="193.40" y="795.04" font-size="9.9" text-anchor="middle">0</text>
<text x="217.60" y="795.04" font-size="9.9" text-anchor="middle">4</text>
<text x="242.40" y="795.04" font-size="9.9" text-anchor="middle">8</text>
<text x="267.00" y="795.04" font-size="9.9" text-anchor="middle">12</text>
<text x="196.90" y="716.09" font-size="10.3" fill="#222">ρ=0.946</text>
<text x="196.90" y="727.49" font-size="10.3" fill="#222">P&lt;0.0001</text>
<text x="230.20" y="805.65" font-size="10.2" text-anchor="middle" font-style="italic" fill="#222">LINE-1</text>
<text transform="translate(169.50,743.90) rotate(-90)" x="0" y="3.65" font-size="10.2" text-anchor="middle" font-style="italic" fill="#222">SVA</text>
<line x1="193.9" y1="775.5" x2="255.2" y2="724.7" stroke="#a80000" stroke-width="1.8"/>
<path d="M255.2 720.1L258.3 723.4L255.2 726.7L252.1 723.4Z" fill="#a80000"/>
<path d="M244.2 736.3L247.3 739.6L244.2 742.9L241.1 739.6Z" fill="#a80000"/>
<path d="M216.3 743.8L219.4 747.1L216.3 750.4L213.2 747.1Z" fill="#a80000"/>
<path d="M208.8 750.6L211.9 753.9L208.8 757.2L205.7 753.9Z" fill="#a80000"/>
<path d="M212.0 755.9L215.1 759.2L212.0 762.5L208.9 759.2Z" fill="#a80000"/>
<path d="M202.3 761.7L205.4 765.0L202.3 768.3L199.2 765.0Z" fill="#a80000"/>
<path d="M200.9 760.7L204.0 764.0L200.9 767.3L197.8 764.0Z" fill="#a80000"/>
<path d="M198.0 763.7L201.1 767.0L198.0 770.3L194.9 767.0Z" fill="#a80000"/>
<path d="M196.0 765.7L199.1 769.0L196.0 772.3L192.9 769.0Z" fill="#a80000"/>
<path d="M195.0 767.7L198.1 771.0L195.0 774.3L191.9 771.0Z" fill="#a80000"/>
<path d="M194.0 769.7L197.1 773.0L194.0 776.3L190.9 773.0Z" fill="#a80000"/>
<path d="M197.0 767.2L200.1 770.5L197.0 773.8L193.9 770.5Z" fill="#a80000"/>
<path d="M85.70 814.20V880.70M77.80 880.70H159.20M77.80 847.50H85.70M77.80 814.20H85.70M85.70 880.70V887.70M110.20 880.70V887.70M134.70 880.70V887.70M159.20 880.70V887.70" stroke="#000" stroke-width="1.7" fill="none"/>
<text x="75.00" y="884.24" font-size="9.9" text-anchor="end">0</text>
<text x="75.00" y="851.04" font-size="9.9" text-anchor="end">50</text>
<text x="75.00" y="817.74" font-size="9.9" text-anchor="end">100</text>
<text x="85.70" y="900.24" font-size="9.9" text-anchor="middle">0</text>
<text x="110.20" y="900.24" font-size="9.9" text-anchor="middle">20</text>
<text x="134.70" y="900.24" font-size="9.9" text-anchor="middle">40</text>
<text x="159.20" y="900.24" font-size="9.9" text-anchor="middle">60</text>
<text x="87.40" y="821.39" font-size="10.3" fill="#222">ρ=0.979</text>
<text x="87.40" y="832.59" font-size="10.3" fill="#222">P&lt;0.0001</text>
<text x="122.45" y="910.85" font-size="10.2" text-anchor="middle" font-style="italic" fill="#222">LINE-1</text>
<text transform="translate(54.70,848.90) rotate(-90)" x="0" y="3.65" font-size="10.2" text-anchor="middle" font-style="italic" fill="#222">HERVK14C</text>
<line x1="85.7" y1="880.7" x2="145.2" y2="830.6" stroke="#006a40" stroke-width="1.8"/>
<rect x="142.6" y="828.0" width="5.2" height="5.2" fill="#006a40"/>
<rect x="114.1" y="838.2" width="5.2" height="5.2" fill="#006a40"/>
<rect x="115.8" y="853.6" width="5.2" height="5.2" fill="#006a40"/>
<rect x="102.7" y="869.2" width="5.2" height="5.2" fill="#006a40"/>
<rect x="93.6" y="865.7" width="5.2" height="5.2" fill="#006a40"/>
<rect x="92.4" y="869.4" width="5.2" height="5.2" fill="#006a40"/>
<rect x="89.4" y="872.4" width="5.2" height="5.2" fill="#006a40"/>
<rect x="87.4" y="874.4" width="5.2" height="5.2" fill="#006a40"/>
<rect x="85.4" y="875.9" width="5.2" height="5.2" fill="#006a40"/>
<rect x="83.9" y="876.9" width="5.2" height="5.2" fill="#006a40"/>
<rect x="90.4" y="873.9" width="5.2" height="5.2" fill="#006a40"/>
<path d="M193.00 812.80V879.00M186.00 879.00H267.00M186.00 846.10H193.00M186.00 812.80H193.00M193.00 879.00V886.00M217.90 879.00V886.00M242.40 879.00V886.00M267.00 879.00V886.00" stroke="#000" stroke-width="1.7" fill="none"/>
<text x="183.20" y="882.54" font-size="9.9" text-anchor="end">0</text>
<text x="183.20" y="849.64" font-size="9.9" text-anchor="end">40</text>
<text x="183.20" y="816.34" font-size="9.9" text-anchor="end">80</text>
<text x="193.00" y="898.54" font-size="9.9" text-anchor="middle">0</text>
<text x="217.90" y="898.54" font-size="9.9" text-anchor="middle">20</text>
<text x="242.40" y="898.54" font-size="9.9" text-anchor="middle">40</text>
<text x="267.00" y="898.54" font-size="9.9" text-anchor="middle">60</text>
<text x="196.90" y="821.39" font-size="10.3" fill="#222">ρ=0.957</text>
<text x="196.90" y="832.59" font-size="10.3" fill="#222">P&lt;0.0001</text>
<text x="230.00" y="909.15" font-size="10.2" text-anchor="middle" font-style="italic" fill="#222">LINE-1</text>
<text transform="translate(166.50,847.50) rotate(-90)" x="0" y="3.65" font-size="10.2" text-anchor="middle" font-style="italic" fill="#222">SVA</text>
<line x1="193.9" y1="879" x2="252.6" y2="830.6" stroke="#006a40" stroke-width="1.8"/>
<rect x="250.9" y="821.2" width="5.2" height="5.2" fill="#006a40"/>
<rect x="222.8" y="854.8" width="5.2" height="5.2" fill="#006a40"/>
<rect x="223.7" y="855.7" width="5.2" height="5.2" fill="#006a40"/>
<rect x="210.6" y="869.2" width="5.2" height="5.2" fill="#006a40"/>
<rect x="201.3" y="863.1" width="5.2" height="5.2" fill="#006a40"/>
<rect x="200.1" y="871.5" width="5.2" height="5.2" fill="#006a40"/>
<rect x="197.4" y="872.4" width="5.2" height="5.2" fill="#006a40"/>
<rect x="195.4" y="873.4" width="5.2" height="5.2" fill="#006a40"/>
<rect x="193.4" y="874.4" width="5.2" height="5.2" fill="#006a40"/>
<rect x="191.9" y="875.4" width="5.2" height="5.2" fill="#006a40"/>
<rect x="196.4" y="871.9" width="5.2" height="5.2" fill="#006a40"/>
<path d="M338.30 505.10V571.40M331.30 571.40H411.90M331.30 538.40H338.30M331.30 505.10H338.30M338.30 571.40V578.40M362.80 571.40V578.40M387.30 571.40V578.40M411.90 571.40V578.40" stroke="#000" stroke-width="1.7" fill="none"/>
<text x="328.50" y="574.94" font-size="9.9" text-anchor="end">0</text>
<text x="328.50" y="541.94" font-size="9.9" text-anchor="end">2</text>
<text x="328.50" y="508.64" font-size="9.9" text-anchor="end">4</text>
<text x="338.30" y="590.94" font-size="9.9" text-anchor="middle">0</text>
<text x="362.80" y="590.94" font-size="9.9" text-anchor="middle">1</text>
<text x="387.30" y="590.94" font-size="9.9" text-anchor="middle">2</text>
<text x="411.90" y="590.94" font-size="9.9" text-anchor="middle">3</text>
<text x="340.90" y="508.09" font-size="10.3" fill="#222">ρ=0.915</text>
<text x="340.90" y="519.29" font-size="10.3" fill="#222">P&lt;0.001</text>
<text x="375.10" y="601.75" font-size="10.2" text-anchor="middle" font-style="italic" fill="#222">STAT1</text>
<text transform="translate(316.90,539.80) rotate(-90)" x="0" y="3.65" font-size="10.2" text-anchor="middle" font-style="italic" fill="#222">ddx58</text>
<line x1="365.4" y1="556.5" x2="405.4" y2="526.7" stroke="#000000" stroke-width="1.8"/>
<circle cx="390.3" cy="518.8" r="3.05" fill="#000000"/>
<circle cx="384.2" cy="528.1" r="3.05" fill="#000000"/>
<circle cx="405.4" cy="542.4" r="3.05" fill="#000000"/>
<circle cx="376.0" cy="549.5" r="3.05" fill="#000000"/>
<circle cx="382.1" cy="551.2" r="3.05" fill="#000000"/>
<circle cx="363.3" cy="555.2" r="3.05" fill="#000000"/>
<circle cx="363.7" cy="559.4" r="3.05" fill="#000000"/>
<circle cx="359.7" cy="564.7" r="3.05" fill="#000000"/>
<circle cx="362.8" cy="567.0" r="3.05" fill="#000000"/>
<path d="M339.70 607.40V674.90M332.00 674.90H412.70M332.00 648.20H339.70M332.00 622.00H339.70M339.70 674.90V681.90M364.20 674.90V681.90M388.70 674.90V681.90M412.70 674.90V681.90" stroke="#000" stroke-width="1.7" fill="none"/>
<text x="329.20" y="678.44" font-size="9.9" text-anchor="end">0</text>
<text x="329.20" y="651.74" font-size="9.9" text-anchor="end">10</text>
<text x="329.20" y="625.54" font-size="9.9" text-anchor="end">20</text>
<text x="339.70" y="694.44" font-size="9.9" text-anchor="middle">0</text>
<text x="364.20" y="694.44" font-size="9.9" text-anchor="middle">2</text>
<text x="388.70" y="694.44" font-size="9.9" text-anchor="middle">4</text>
<text x="412.70" y="694.44" font-size="9.9" text-anchor="middle">6</text>
<text x="341.40" y="612.89" font-size="10.3" fill="#222">ρ=0.604</text>
<text x="341.40" y="624.19" font-size="10.3" fill="#222">P&lt;0.05</text>
<text x="376.00" y="704.65" font-size="10.2" text-anchor="middle" font-style="italic" fill="#222">STAT1</text>
<text transform="translate(311.10,642.40) rotate(-90)" x="0" y="3.65" font-size="10.2" text-anchor="middle" font-style="italic" fill="#222">ddx58</text>
<line x1="347.9" y1="667" x2="399.6" y2="628.4" stroke="#0000c4" stroke-width="1.8"/>
<path d="M399.6 620.8L403.3 627.4L395.9 627.4Z" fill="#0000c4"/>
<path d="M369.3 640.1L373.0 646.7L365.6 646.7Z" fill="#0000c4"/>
<path d="M363.7 650.0L367.4 656.6L360.0 656.6Z" fill="#0000c4"/>
<path d="M355.3 653.5L359.0 660.1L351.6 660.1Z" fill="#0000c4"/>
<path d="M347.9 658.8L351.6 665.4L344.2 665.4Z" fill="#0000c4"/>
<path d="M363.7 657.9L367.4 664.5L360.0 664.5Z" fill="#0000c4"/>
<path d="M367.2 659.7L370.9 666.3L363.5 666.3Z" fill="#0000c4"/>
<path d="M360.7 658.8L364.4 665.4L357.0 665.4Z" fill="#0000c4"/>
<path d="M347.0 665.8L350.7 672.4L343.3 672.4Z" fill="#0000c4"/>
<path d="M359.8 667.2L363.5 673.8L356.1 673.8Z" fill="#0000c4"/>
<path d="M352.0 657.2L355.7 663.8L348.3 663.8Z" fill="#0000c4"/>
<path d="M352.3 656.2L356.0 662.8L348.6 662.8Z" fill="#0000c4"/>
<path d="M357.5 655.0L361.2 661.6L353.8 661.6Z" fill="#0000c4"/>
<path d="M365.4 657.0L369.1 663.6L361.7 663.6Z" fill="#0000c4"/>
<path d="M339.70 711.20V778.10M332.00 778.10H413.60M332.00 759.70H339.70M332.00 741.30H339.70M332.00 723.40H339.70M339.70 778.10V785.10M369.20 778.10V785.10M398.70 778.10V785.10" stroke="#000" stroke-width="1.7" fill="none"/>
<text x="329.20" y="781.64" font-size="9.9" text-anchor="end">0</text>
<text x="329.20" y="763.24" font-size="9.9" text-anchor="end">5</text>
<text x="329.20" y="744.84" font-size="9.9" text-anchor="end">10</text>
<text x="329.20" y="726.94" font-size="9.9" text-anchor="end">15</text>
<text x="339.70" y="797.64" font-size="9.9" text-anchor="middle">0</text>
<text x="369.20" y="797.64" font-size="9.9" text-anchor="middle">10</text>
<text x="398.70" y="797.64" font-size="9.9" text-anchor="middle">20</text>
<text x="341.40" y="716.99" font-size="10.3" fill="#222">ρ=-0.033</text>
<text x="341.40" y="728.89" font-size="10.3" fill="#222">P=0.89</text>
<text x="376.00" y="808.75" font-size="10.2" text-anchor="middle" font-style="italic" fill="#222">STAT1</text>
<text transform="translate(310.30,746.60) rotate(-90)" x="0" y="3.65" font-size="10.2" text-anchor="middle" font-style="italic" fill="#222">ddx58</text>
<path d="M341.4 731.0L344.5 734.3L341.4 737.6L338.3 734.3Z" fill="#a80000"/>
<path d="M350.9 739.8L354.0 743.1L350.9 746.4L347.8 743.1Z" fill="#a80000"/>
<path d="M361.1 750.3L364.2 753.6L361.1 756.9L358.0 753.6Z" fill="#a80000"/>
<path d="M350.9 752.6L354.0 755.9L350.9 759.2L347.8 755.9Z" fill="#a80000"/>
<path d="M404.0 752.6L407.1 755.9L404.0 759.2L400.9 755.9Z" fill="#a80000"/>
<path d="M361.9 757.3L365.0 760.6L361.9 763.9L358.8 760.6Z" fill="#a80000"/>
<path d="M380.3 758.2L383.4 761.5L380.3 764.8L377.2 761.5Z" fill="#a80000"/>
<path d="M343.2 759.0L346.3 762.3L343.2 765.6L340.1 762.3Z" fill="#a80000"/>
<path d="M368.1 763.8L371.2 767.1L368.1 770.4L365.0 767.1Z" fill="#a80000"/>
<path d="M375.1 762.5L378.2 765.8L375.1 769.1L372.0 765.8Z" fill="#a80000"/>
<path d="M374.6 766.0L377.7 769.3L374.6 772.6L371.5 769.3Z" fill="#a80000"/>
<path d="M362.8 766.9L365.9 770.2L362.8 773.5L359.7 770.2Z" fill="#a80000"/>
<path d="M345.3 767.8L348.4 771.1L345.3 774.4L342.2 771.1Z" fill="#a80000"/>
<path d="M346.2 769.6L349.3 772.9L346.2 776.2L343.1 772.9Z" fill="#a80000"/>
<path d="M352.3 767.8L355.4 771.1L352.3 774.4L349.2 771.1Z" fill="#a80000"/>
<path d="M351.4 772.7L354.5 776.0L351.4 779.3L348.3 776.0Z" fill="#a80000"/>
<path d="M371.6 770.4L374.7 773.7L371.6 777.0L368.5 773.7Z" fill="#a80000"/>
<path d="M359.0 773.9L362.1 777.2L359.0 780.5L355.9 777.2Z" fill="#a80000"/>
<path d="M339.20 815.70V881.70M332.00 881.70H413.60M332.00 849.00H339.20M332.00 815.70H339.20M339.20 881.70V888.70M360.20 881.70V888.70M381.20 881.70V888.70M402.20 881.70V888.70" stroke="#000" stroke-width="1.7" fill="none"/>
<text x="329.20" y="885.24" font-size="9.9" text-anchor="end">0</text>
<text x="329.20" y="852.54" font-size="9.9" text-anchor="end">5</text>
<text x="329.20" y="819.24" font-size="9.9" text-anchor="end">10</text>
<text x="339.20" y="901.24" font-size="9.9" text-anchor="middle">0</text>
<text x="360.20" y="901.24" font-size="9.9" text-anchor="middle">1</text>
<text x="381.20" y="901.24" font-size="9.9" text-anchor="middle">2</text>
<text x="402.20" y="901.24" font-size="9.9" text-anchor="middle">3</text>
<text x="343.90" y="819.39" font-size="10.3" fill="#222">ρ=0.714</text>
<text x="343.90" y="830.69" font-size="10.3" fill="#222">P&lt;0.0001</text>
<text x="375.60" y="912.15" font-size="10.2" text-anchor="middle" font-style="italic" fill="#222">STAT1</text>
<text transform="translate(312.40,850.70) rotate(-90)" x="0" y="3.65" font-size="10.2" text-anchor="middle" font-style="italic" fill="#222">ddx58</text>
<line x1="345.3" y1="879.6" x2="389.4" y2="851.6" stroke="#006a40" stroke-width="1.8"/>
<rect x="376.0" y="833.6" width="5.2" height="5.2" fill="#006a40"/>
<rect x="364.1" y="843.7" width="5.2" height="5.2" fill="#006a40"/>
<rect x="386.8" y="846.4" width="5.2" height="5.2" fill="#006a40"/>
<rect x="380.9" y="854.6" width="5.2" height="5.2" fill="#006a40"/>
<rect x="357.1" y="857.4" width="5.2" height="5.2" fill="#006a40"/>
<rect x="364.6" y="856.0" width="5.2" height="5.2" fill="#006a40"/>
<rect x="365.1" y="857.7" width="5.2" height="5.2" fill="#006a40"/>
<rect x="363.7" y="863.0" width="5.2" height="5.2" fill="#006a40"/>
<rect x="353.7" y="863.9" width="5.2" height="5.2" fill="#006a40"/>
<rect x="351.5" y="866.1" width="5.2" height="5.2" fill="#006a40"/>
<rect x="354.4" y="870.0" width="5.2" height="5.2" fill="#006a40"/>
<rect x="362.8" y="869.5" width="5.2" height="5.2" fill="#006a40"/>
<rect x="382.6" y="870.0" width="5.2" height="5.2" fill="#006a40"/>
<rect x="373.9" y="875.3" width="5.2" height="5.2" fill="#006a40"/>
<rect x="342.7" y="875.3" width="5.2" height="5.2" fill="#006a40"/>
<rect x="346.2" y="876.2" width="5.2" height="5.2" fill="#006a40"/>
<rect x="349.7" y="874.4" width="5.2" height="5.2" fill="#006a40"/>
<rect x="347.9" y="877.9" width="5.2" height="5.2" fill="#006a40"/>
<rect x="352.4" y="876.4" width="5.2" height="5.2" fill="#006a40"/>
<path d="M488.30 503.90V571.00M481.30 571.00H561.00M481.30 548.60H488.30M481.30 526.70H488.30M481.30 503.90H488.30M488.30 571.00V578.00M525.10 571.00V578.00M561.00 571.00V578.00" stroke="#000" stroke-width="1.7" fill="none"/>
<text x="478.50" y="574.54" font-size="9.9" text-anchor="end">0</text>
<text x="478.50" y="552.14" font-size="9.9" text-anchor="end">5</text>
<text x="478.50" y="530.24" font-size="9.9" text-anchor="end">10</text>
<text x="478.50" y="507.44" font-size="9.9" text-anchor="end">15</text>
<text x="488.30" y="590.54" font-size="9.9" text-anchor="middle">0</text>
<text x="525.10" y="590.54" font-size="9.9" text-anchor="middle">2</text>
<text x="561.00" y="590.54" font-size="9.9" text-anchor="middle">4</text>
<text x="491.40" y="511.59" font-size="10.3" fill="#222">ρ=0.952</text>
<text x="491.40" y="522.49" font-size="10.3" fill="#222">P&lt;0.001</text>
<text x="519.80" y="601.45" font-size="10.2" text-anchor="middle" font-style="italic" fill="#222">ddx58</text>
<text transform="translate(462.40,537.20) rotate(-90)" x="0" y="3.65" font-size="10.2" text-anchor="middle" font-style="italic" fill="#222">IFIT1</text>
<line x1="503.2" y1="567" x2="547" y2="517" stroke="#000000" stroke-width="1.8"/>
<circle cx="537.0" cy="508.6" r="3.05" fill="#000000"/>
<circle cx="547.0" cy="520.2" r="3.05" fill="#000000"/>
<circle cx="513.2" cy="548.2" r="3.05" fill="#000000"/>
<circle cx="521.2" cy="561.2" r="3.05" fill="#000000"/>
<circle cx="513.7" cy="563.0" r="3.05" fill="#000000"/>
<circle cx="511.4" cy="563.5" r="3.05" fill="#000000"/>
<circle cx="505.8" cy="566.1" r="3.05" fill="#000000"/>
<circle cx="502.3" cy="567.0" r="3.05" fill="#000000"/>
<circle cx="496.7" cy="568.7" r="3.05" fill="#000000"/>
<circle cx="493.9" cy="570.5" r="3.05" fill="#000000"/>
<path d="M601.40 503.00V569.60M593.90 569.60H675.00M593.90 547.70H601.40M593.90 525.80H601.40M593.90 503.00H601.40M601.40 569.60V576.60M638.20 569.60V576.60M675.00 569.60V576.60" stroke="#000" stroke-width="1.7" fill="none"/>
<text x="591.10" y="573.14" font-size="9.9" text-anchor="end">0</text>
<text x="591.10" y="551.24" font-size="9.9" text-anchor="end">2</text>
<text x="591.10" y="529.34" font-size="9.9" text-anchor="end">4</text>
<text x="591.10" y="506.54" font-size="9.9" text-anchor="end">6</text>
<text x="601.40" y="589.14" font-size="9.9" text-anchor="middle">0</text>
<text x="638.20" y="589.14" font-size="9.9" text-anchor="middle">10</text>
<text x="675.00" y="589.14" font-size="9.9" text-anchor="middle">20</text>
<text x="603.50" y="509.39" font-size="10.3" fill="#222">ρ=0.939</text>
<text x="603.50" y="521.09" font-size="10.3" fill="#222">P&lt;0.001</text>
<text x="638.60" y="600.55" font-size="10.2" text-anchor="middle" font-style="italic" fill="#222">ISG15</text>
<text transform="translate(577.60,539.00) rotate(-90)" x="0" y="3.65" font-size="10.2" text-anchor="middle" font-style="italic" fill="#222">OAS1</text>
<line x1="601.8" y1="567" x2="664" y2="513.9" stroke="#000000" stroke-width="1.8"/>
<circle cx="664.5" cy="519.7" r="3.05" fill="#000000"/>
<circle cx="646.8" cy="522.7" r="3.05" fill="#000000"/>
<circle cx="621.4" cy="537.7" r="3.05" fill="#000000"/>
<circle cx="610.2" cy="551.6" r="3.05" fill="#000000"/>
<circle cx="609.1" cy="558.2" r="3.05" fill="#000000"/>
<circle cx="605.3" cy="560.0" r="3.05" fill="#000000"/>
<circle cx="607.0" cy="562.6" r="3.05" fill="#000000"/>
<circle cx="602.7" cy="563.5" r="3.05" fill="#000000"/>
<circle cx="604.4" cy="565.2" r="3.05" fill="#000000"/>
<path d="M488.30 607.40V674.50M481.30 674.50H561.50M481.30 641.20H488.30M481.30 607.40H488.30M488.30 674.50V681.50M512.80 674.50V681.50M537.00 674.50V681.50M561.50 674.50V681.50" stroke="#000" stroke-width="1.7" fill="none"/>
<text x="478.50" y="678.04" font-size="9.9" text-anchor="end">0</text>
<text x="478.50" y="644.74" font-size="9.9" text-anchor="end">40</text>
<text x="478.50" y="610.94" font-size="9.9" text-anchor="end">80</text>
<text x="488.30" y="694.04" font-size="9.9" text-anchor="middle">0</text>
<text x="512.80" y="694.04" font-size="9.9" text-anchor="middle">10</text>
<text x="537.00" y="694.04" font-size="9.9" text-anchor="middle">20</text>
<text x="561.50" y="694.04" font-size="9.9" text-anchor="middle">30</text>
<text x="490.90" y="612.29" font-size="10.3" fill="#222">ρ=0.582</text>
<text x="490.90" y="623.89" font-size="10.3" fill="#222">P&lt;0.05</text>
<text x="523.00" y="704.65" font-size="10.2" text-anchor="middle" font-style="italic" fill="#222">ddx58</text>
<text transform="translate(460.60,641.60) rotate(-90)" x="0" y="3.65" font-size="10.2" text-anchor="middle" font-style="italic" fill="#222">IFIT1</text>
<line x1="500.5" y1="671.4" x2="535.6" y2="634.6" stroke="#0000c4" stroke-width="1.8"/>
<path d="M517.5 625.5L521.2 632.1L513.8 632.1Z" fill="#0000c4"/>
<path d="M535.6 632.5L539.3 639.1L531.9 639.1Z" fill="#0000c4"/>
<path d="M493.2 658.8L496.9 665.4L489.5 665.4Z" fill="#0000c4"/>
<path d="M492.3 668.4L496.0 675.0L488.6 675.0Z" fill="#0000c4"/>
<path d="M506.7 664.1L510.4 670.7L503.0 670.7Z" fill="#0000c4"/>
<path d="M500.5 666.7L504.2 673.3L496.8 673.3Z" fill="#0000c4"/>
<path d="M503.0 667.7L506.7 674.3L499.3 674.3Z" fill="#0000c4"/>
<path d="M498.0 668.7L501.7 675.3L494.3 675.3Z" fill="#0000c4"/>
<path d="M509.0 666.2L512.7 672.8L505.3 672.8Z" fill="#0000c4"/>
<path d="M504.0 664.7L507.7 671.3L500.3 671.3Z" fill="#0000c4"/>
<path d="M601.40 606.20V672.20M594.00 672.20H675.40M594.00 639.50H601.40M594.00 606.20H601.40M601.40 672.20V679.20M638.60 672.20V679.20M675.40 672.20V679.20" stroke="#000" stroke-width="1.7" fill="none"/>
<text x="591.20" y="675.74" font-size="9.9" text-anchor="end">0</text>
<text x="591.20" y="643.04" font-size="9.9" text-anchor="end">20</text>
<text x="591.20" y="609.74" font-size="9.9" text-anchor="end">40</text>
<text x="601.40" y="691.74" font-size="9.9" text-anchor="middle">0</text>
<text x="638.60" y="691.74" font-size="9.9" text-anchor="middle">40</text>
<text x="675.40" y="691.74" font-size="9.9" text-anchor="middle">80</text>
<text x="605.60" y="611.59" font-size="10.3" fill="#222">ρ=0.736</text>
<text x="605.60" y="622.49" font-size="10.3" fill="#222">P&lt;0.01</text>
<text x="637.20" y="704.35" font-size="10.2" text-anchor="middle" font-style="italic" fill="#222">ISG15</text>
<text transform="translate(574.60,637.20) rotate(-90)" x="0" y="3.65" font-size="10.2" text-anchor="middle" font-style="italic" fill="#222">OAS1</text>
<line x1="601.8" y1="669.6" x2="664" y2="612.7" stroke="#0000c4" stroke-width="1.8"/>
<path d="M660.5 608.0L664.2 614.6L656.8 614.6Z" fill="#0000c4"/>
<path d="M665.2 611.2L668.9 617.8L661.5 617.8Z" fill="#0000c4"/>
<path d="M612.3 657.9L616.0 664.5L608.6 664.5Z" fill="#0000c4"/>
<path d="M607.0 657.0L610.7 663.6L603.3 663.6Z" fill="#0000c4"/>
<path d="M604.4 661.4L608.1 668.0L600.7 668.0Z" fill="#0000c4"/>
<path d="M603.5 664.9L607.2 671.5L599.8 671.5Z" fill="#0000c4"/>
<path d="M606.0 660.2L609.7 666.8L602.3 666.8Z" fill="#0000c4"/>
<path d="M609.0 658.7L612.7 665.3L605.3 665.3Z" fill="#0000c4"/>
<path d="M488.30 710.70V777.20M481.30 777.20H561.00M481.30 755.70H488.30M481.30 733.40H488.30M481.30 710.70H488.30M488.30 777.20V784.20M511.90 777.20V784.20M536.50 777.20V784.20M561.00 777.20V784.20" stroke="#000" stroke-width="1.7" fill="none"/>
<text x="478.50" y="780.74" font-size="9.9" text-anchor="end">0</text>
<text x="478.50" y="759.24" font-size="9.9" text-anchor="end">20</text>
<text x="478.50" y="736.94" font-size="9.9" text-anchor="end">40</text>
<text x="478.50" y="714.24" font-size="9.9" text-anchor="end">60</text>
<text x="488.30" y="796.74" font-size="9.9" text-anchor="middle">0</text>
<text x="511.90" y="796.74" font-size="9.9" text-anchor="middle">5</text>
<text x="536.50" y="796.74" font-size="9.9" text-anchor="middle">10</text>
<text x="561.00" y="796.74" font-size="9.9" text-anchor="middle">15</text>
<text x="490.00" y="716.09" font-size="10.3" fill="#222">ρ=0.923</text>
<text x="490.00" y="727.49" font-size="10.3" fill="#222">P&lt;0.0001</text>
<text x="523.00" y="808.75" font-size="10.2" text-anchor="middle" font-style="italic" fill="#222">ddx58</text>
<text transform="translate(460.30,743.10) rotate(-90)" x="0" y="3.65" font-size="10.2" text-anchor="middle" font-style="italic" fill="#222">IFIT1</text>
<line x1="490" y1="771.1" x2="547.3" y2="725.5" stroke="#a80000" stroke-width="1.8"/>
<path d="M547.3 731.4L550.4 734.7L547.3 738.0L544.2 734.7Z" fill="#a80000"/>
<path d="M535.2 737.7L538.3 741.0L535.2 744.3L532.1 741.0Z" fill="#a80000"/>
<path d="M517.7 733.1L520.8 736.4L517.7 739.7L514.6 736.4Z" fill="#a80000"/>
<path d="M521.2 736.6L524.3 739.9L521.2 743.2L518.1 739.9Z" fill="#a80000"/>
<path d="M511.4 735.4L514.5 738.7L511.4 742.0L508.3 738.7Z" fill="#a80000"/>
<path d="M510.7 740.6L513.8 743.9L510.7 747.2L507.6 743.9Z" fill="#a80000"/>
<path d="M502.7 741.9L505.8 745.2L502.7 748.5L499.6 745.2Z" fill="#a80000"/>
<path d="M509.7 749.4L512.8 752.7L509.7 756.0L506.6 752.7Z" fill="#a80000"/>
<path d="M518.1 752.6L521.2 755.9L518.1 759.2L515.0 755.9Z" fill="#a80000"/>
<path d="M504.4 757.6L507.5 760.9L504.4 764.2L501.3 760.9Z" fill="#a80000"/>
<path d="M498.8 756.4L501.9 759.7L498.8 763.0L495.7 759.7Z" fill="#a80000"/>
<path d="M490.9 763.8L494.0 767.1L490.9 770.4L487.8 767.1Z" fill="#a80000"/>
<path d="M497.9 767.5L501.0 770.8L497.9 774.1L494.8 770.8Z" fill="#a80000"/>
<path d="M495.3 769.6L498.4 772.9L495.3 776.2L492.2 772.9Z" fill="#a80000"/>
<path d="M492.5 771.2L495.6 774.5L492.5 777.8L489.4 774.5Z" fill="#a80000"/>
<path d="M490.0 772.7L493.1 776.0L490.0 779.3L486.9 776.0Z" fill="#a80000"/>
<path d="M601.80 709.80V775.50M594.00 775.50H675.40M594.00 742.70H601.80M594.00 709.80H601.80M601.80 775.50V782.50M631.60 775.50V782.50M660.50 775.50V782.50" stroke="#000" stroke-width="1.7" fill="none"/>
<text x="591.20" y="779.04" font-size="9.9" text-anchor="end">0</text>
<text x="591.20" y="746.24" font-size="9.9" text-anchor="end">10</text>
<text x="591.20" y="713.34" font-size="9.9" text-anchor="end">20</text>
<text x="601.80" y="795.04" font-size="9.9" text-anchor="middle">0</text>
<text x="631.60" y="795.04" font-size="9.9" text-anchor="middle">10</text>
<text x="660.50" y="795.04" font-size="9.9" text-anchor="middle">20</text>
<text x="603.90" y="715.19" font-size="10.3" fill="#222">ρ=0.847</text>
<text x="603.90" y="726.59" font-size="10.3" fill="#222">P&lt;0.0001</text>
<text x="638.20" y="807.95" font-size="10.2" text-anchor="middle" font-style="italic" fill="#222">ISG15</text>
<text transform="translate(574.60,743.10) rotate(-90)" x="0" y="3.65" font-size="10.2" text-anchor="middle" font-style="italic" fill="#222">OAS1</text>
<line x1="602.1" y1="773.2" x2="660" y2="734.7" stroke="#a80000" stroke-width="1.8"/>
<path d="M638.9 729.6L642.0 732.9L638.9 736.2L635.8 732.9Z" fill="#a80000"/>
<path d="M645.9 728.9L649.0 732.2L645.9 735.5L642.8 732.2Z" fill="#a80000"/>
<path d="M654.7 734.2L657.8 737.5L654.7 740.8L651.6 737.5Z" fill="#a80000"/>
<path d="M651.7 739.4L654.8 742.7L651.7 746.0L648.6 742.7Z" fill="#a80000"/>
<path d="M660.5 746.4L663.6 749.7L660.5 753.0L657.4 749.7Z" fill="#a80000"/>
<path d="M618.1 747.1L621.2 750.4L618.1 753.7L615.0 750.4Z" fill="#a80000"/>
<path d="M621.9 748.9L625.0 752.2L621.9 755.5L618.8 752.2Z" fill="#a80000"/>
<path d="M622.8 753.8L625.9 757.1L622.8 760.4L619.7 757.1Z" fill="#a80000"/>
<path d="M617.9 758.2L621.0 761.5L617.9 764.8L614.8 761.5Z" fill="#a80000"/>
<path d="M614.9 760.8L618.0 764.1L614.9 767.4L611.8 764.1Z" fill="#a80000"/>
<path d="M614.4 763.4L617.5 766.7L614.4 770.0L611.3 766.7Z" fill="#a80000"/>
<path d="M627.7 766.4L630.8 769.7L627.7 773.0L624.6 769.7Z" fill="#a80000"/>
<path d="M607.9 766.9L611.0 770.2L607.9 773.5L604.8 770.2Z" fill="#a80000"/>
<path d="M605.6 768.7L608.7 772.0L605.6 775.3L602.5 772.0Z" fill="#a80000"/>
<path d="M607.4 771.3L610.5 774.6L607.4 777.9L604.3 774.6Z" fill="#a80000"/>
<path d="M603.5 769.2L606.6 772.5L603.5 775.8L600.4 772.5Z" fill="#a80000"/>
<path d="M487.40 814.40V881.00M480.00 881.00H561.00M480.00 847.70H487.40M480.00 814.40H487.40M487.40 881.00V888.00M524.20 881.00V888.00M561.00 881.00V888.00" stroke="#000" stroke-width="1.7" fill="none"/>
<text x="477.20" y="884.54" font-size="9.9" text-anchor="end">0</text>
<text x="477.20" y="851.24" font-size="9.9" text-anchor="end">50</text>
<text x="477.20" y="817.94" font-size="9.9" text-anchor="end">100</text>
<text x="487.40" y="900.54" font-size="9.9" text-anchor="middle">0</text>
<text x="524.20" y="900.54" font-size="9.9" text-anchor="middle">4</text>
<text x="561.00" y="900.54" font-size="9.9" text-anchor="middle">8</text>
<text x="490.90" y="821.99" font-size="10.3" fill="#222">ρ=0.862</text>
<text x="490.90" y="833.39" font-size="10.3" fill="#222">P&lt;0.0001</text>
<text x="523.40" y="912.05" font-size="10.2" text-anchor="middle" font-style="italic" fill="#222">ddx58</text>
<text transform="translate(458.50,848.10) rotate(-90)" x="0" y="3.65" font-size="10.2" text-anchor="middle" font-style="italic" fill="#222">IFIT1</text>
<line x1="496.2" y1="878.7" x2="551.9" y2="827" stroke="#006a40" stroke-width="1.8"/>
<rect x="535.6" y="823.9" width="5.2" height="5.2" fill="#006a40"/>
<rect x="549.3" y="825.0" width="5.2" height="5.2" fill="#006a40"/>
<rect x="531.8" y="835.0" width="5.2" height="5.2" fill="#006a40"/>
<rect x="508.1" y="848.1" width="5.2" height="5.2" fill="#006a40"/>
<rect x="503.2" y="852.5" width="5.2" height="5.2" fill="#006a40"/>
<rect x="519.8" y="857.4" width="5.2" height="5.2" fill="#006a40"/>
<rect x="515.8" y="859.5" width="5.2" height="5.2" fill="#006a40"/>
<rect x="517.6" y="862.1" width="5.2" height="5.2" fill="#006a40"/>
<rect x="516.9" y="865.6" width="5.2" height="5.2" fill="#006a40"/>
<rect x="507.1" y="868.8" width="5.2" height="5.2" fill="#006a40"/>
<rect x="498.8" y="872.6" width="5.2" height="5.2" fill="#006a40"/>
<rect x="500.9" y="875.2" width="5.2" height="5.2" fill="#006a40"/>
<rect x="490.9" y="876.1" width="5.2" height="5.2" fill="#006a40"/>
<rect x="488.9" y="876.9" width="5.2" height="5.2" fill="#006a40"/>
<rect x="492.9" y="876.9" width="5.2" height="5.2" fill="#006a40"/>
<rect x="486.9" y="875.9" width="5.2" height="5.2" fill="#006a40"/>
<path d="M602.10 815.10V881.00M594.50 881.00H675.40M594.50 858.90H602.10M594.50 837.00H602.10M594.50 815.10H602.10M602.10 881.00V888.00M630.70 881.00V888.00M659.60 881.00V888.00" stroke="#000" stroke-width="1.7" fill="none"/>
<text x="591.70" y="884.54" font-size="9.9" text-anchor="end">0</text>
<text x="591.70" y="862.44" font-size="9.9" text-anchor="end">10</text>
<text x="591.70" y="840.54" font-size="9.9" text-anchor="end">20</text>
<text x="591.70" y="818.64" font-size="9.9" text-anchor="end">30</text>
<text x="602.10" y="900.54" font-size="9.9" text-anchor="middle">0</text>
<text x="630.70" y="900.54" font-size="9.9" text-anchor="middle">100</text>
<text x="659.60" y="900.54" font-size="9.9" text-anchor="middle">200</text>
<text x="603.90" y="818.79" font-size="10.3" fill="#222">ρ=0.883</text>
<text x="603.90" y="830.39" font-size="10.3" fill="#222">P&lt;0.0001</text>
<text x="635.60" y="912.05" font-size="10.2" text-anchor="middle" font-style="italic" fill="#222">ISG15</text>
<text transform="translate(575.20,852.40) rotate(-90)" x="0" y="3.65" font-size="10.2" text-anchor="middle" font-style="italic" fill="#222">OAS1</text>
<line x1="602.7" y1="877.9" x2="657.9" y2="831.4" stroke="#006a40" stroke-width="1.8"/>
<rect x="655.6" y="830.6" width="5.2" height="5.2" fill="#006a40"/>
<rect x="649.1" y="832.3" width="5.2" height="5.2" fill="#006a40"/>
<rect x="641.6" y="842.8" width="5.2" height="5.2" fill="#006a40"/>
<rect x="611.8" y="850.7" width="5.2" height="5.2" fill="#006a40"/>
<rect x="602.4" y="856.0" width="5.2" height="5.2" fill="#006a40"/>
<rect x="604.4" y="862.6" width="5.2" height="5.2" fill="#006a40"/>
<rect x="609.4" y="862.1" width="5.2" height="5.2" fill="#006a40"/>
<rect x="607.9" y="866.1" width="5.2" height="5.2" fill="#006a40"/>
<rect x="599.5" y="867.9" width="5.2" height="5.2" fill="#006a40"/>
<rect x="601.3" y="873.5" width="5.2" height="5.2" fill="#006a40"/>
<rect x="600.9" y="876.4" width="5.2" height="5.2" fill="#006a40"/>
<rect x="602.4" y="875.4" width="5.2" height="5.2" fill="#006a40"/>
<rect x="600.8" y="855.8" width="5.2" height="5.2" fill="#006a40"/>
<rect x="598.7" y="867.8" width="5.2" height="5.2" fill="#006a40"/>
<rect x="600.2" y="872.3" width="5.2" height="5.2" fill="#006a40"/>
<rect x="609.1" y="866.3" width="5.2" height="5.2" fill="#006a40"/>
<text x="16.40" y="16.10" font-size="19.8">(A)</text>
<text x="16.40" y="479.10" font-size="19.8">(B)</text>
<text x="285.60" y="479.40" font-size="19.8">(C)</text>
<text x="436.20" y="479.40" font-size="19.8">(D)</text>
<text x="60.80" y="83.87" font-size="15" text-anchor="middle" font-weight="bold">HC</text>
<text x="60.50" y="196.77" font-size="15" text-anchor="middle" font-weight="bold">AIBD</text>
<text x="60.50" y="305.27" font-size="15" text-anchor="middle" font-weight="bold">SLE</text>
<text x="61.00" y="404.57" font-size="15" text-anchor="middle" font-weight="bold">DM</text>
<text x="19.20" y="556.21" font-size="14" text-anchor="middle" font-weight="bold">HC</text>
<text x="19.40" y="659.11" font-size="14" text-anchor="middle" font-weight="bold">AIBD</text>
<text x="20.00" y="761.71" font-size="14" text-anchor="middle" font-weight="bold">SLE</text>
<text x="19.10" y="865.52" font-size="14.3" text-anchor="middle" font-weight="bold">DM</text>
<text x="162.50" y="24.50" font-size="14.2" text-anchor="middle" font-style="italic" font-weight="bold">IFN-α2</text>
<text x="289.40" y="24.50" font-size="14.2" text-anchor="middle" font-style="italic" font-weight="bold">IFN-β1</text>
<text x="419.60" y="24.50" font-size="14.2" text-anchor="middle" font-style="italic" font-weight="bold">IFN-γ</text>
<text x="543.00" y="24.50" font-size="14.2" text-anchor="middle" font-style="italic" font-weight="bold">IFN-λ1</text>
<text x="117.70" y="496.00" font-size="13.3" text-anchor="middle" font-style="italic" font-weight="bold">HERVK14C</text>
<text x="229.50" y="496.00" font-size="13.3" text-anchor="middle" font-style="italic" font-weight="bold">SVA</text>
<text x="318.80" y="495.50" font-size="13.6" font-style="italic" font-weight="bold">STAT1<tspan font-style="normal"> vs. </tspan>ddx58</text>
<text x="470.80" y="495.50" font-size="13.6" font-style="italic" font-weight="bold">ddx58<tspan font-style="normal"> vs. </tspan>IFIT1</text>
<text x="581.60" y="495.50" font-size="13.6" font-style="italic" font-weight="bold">ISG15<tspan font-style="normal"> vs. </tspan>OAS1</text>
</svg>
</body></html>
